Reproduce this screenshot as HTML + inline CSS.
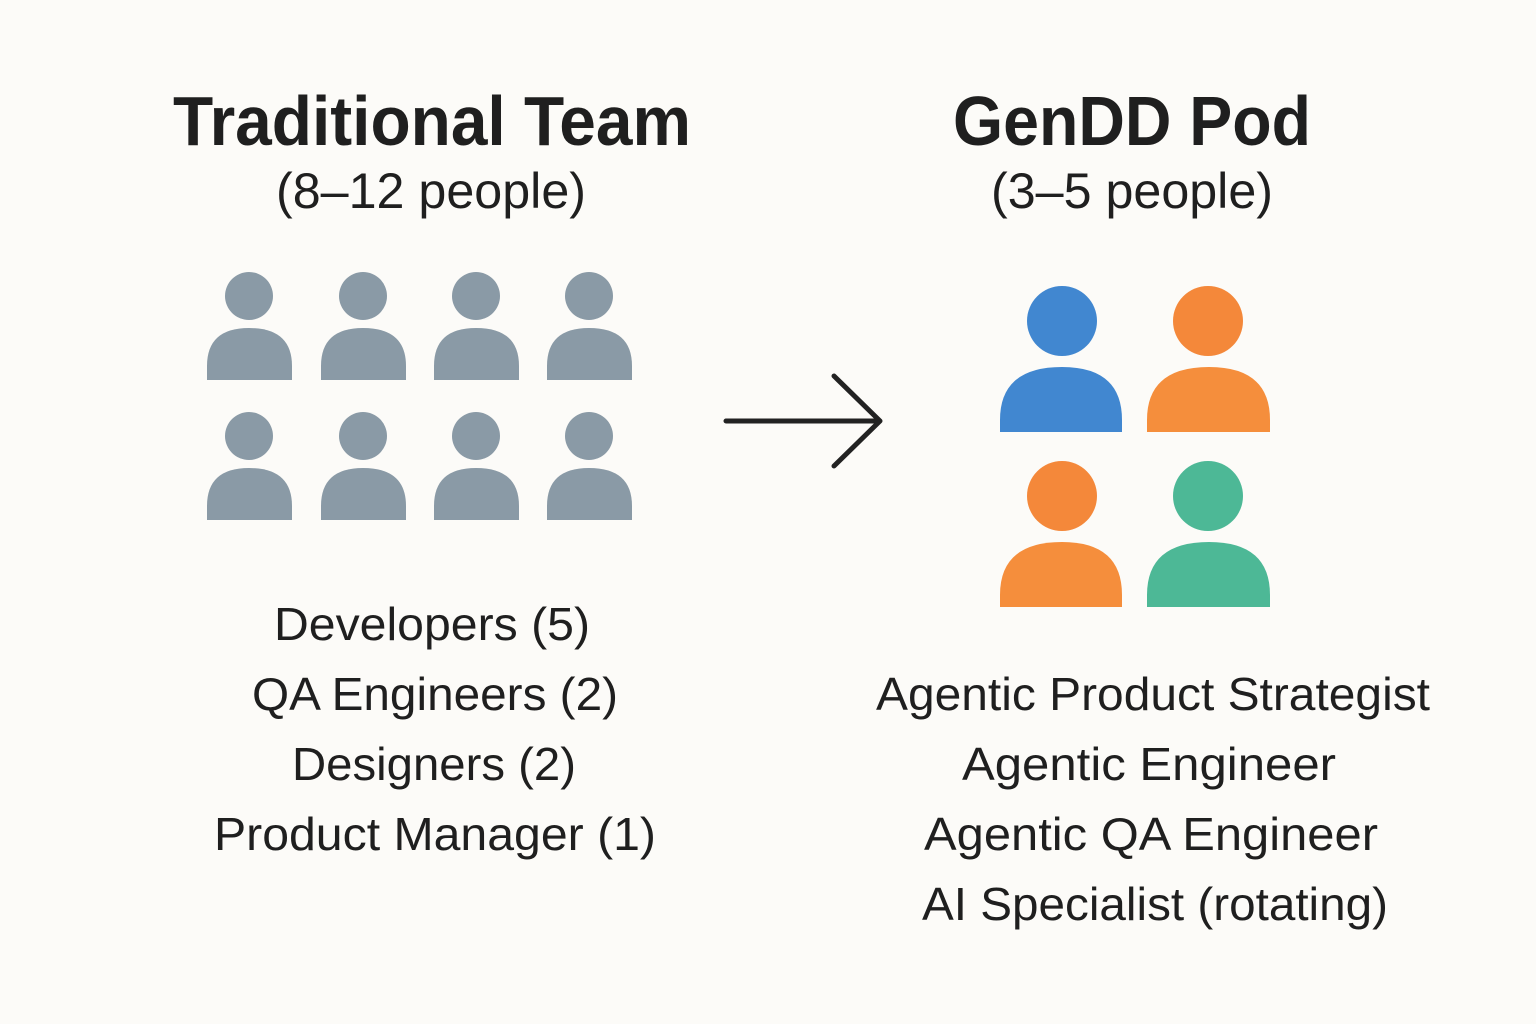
<!DOCTYPE html>
<html><head><meta charset="utf-8"><style>
html,body{margin:0;padding:0;background:#fcfbf8;}
svg{display:block}
text{font-family:"Liberation Sans",sans-serif;fill:#1f1f1f;text-anchor:middle}
</style></head><body>
<svg width="1536" height="1024" viewBox="0 0 1536 1024" xmlns="http://www.w3.org/2000/svg">
<rect width="1536" height="1024" fill="#fcfbf8"/>
<text x="432" y="145" font-size="70" font-weight="bold" textLength="518" lengthAdjust="spacingAndGlyphs">Traditional Team</text>
<text x="431" y="208" font-size="50" textLength="310" lengthAdjust="spacingAndGlyphs">(8–12 people)</text>
<text x="1132" y="145" font-size="70" font-weight="bold" textLength="358" lengthAdjust="spacingAndGlyphs">GenDD Pod</text>
<text x="1132" y="208" font-size="50" textLength="282" lengthAdjust="spacingAndGlyphs">(3–5 people)</text>

<g fill="#8a9aa6">
<g id="p">
<circle cx="249" cy="296" r="24"/>
<path d="M207 380 V366 Q207 328 249 328 Q292 328 292 366 V380 Z"/>
</g>
<use href="#p" x="114"/><use href="#p" x="227"/><use href="#p" x="340"/>
<use href="#p" y="140"/><use href="#p" x="114" y="140"/><use href="#p" x="227" y="140"/><use href="#p" x="340" y="140"/>
</g>

<path d="M726 421 H880 M834 376 L880 421 L834 466" fill="none" stroke="#222" stroke-width="5" stroke-linecap="round" stroke-linejoin="round"/>

<g>
<circle cx="1062" cy="321" r="35" fill="#4187d0"/>
<path d="M1000 432 V420 Q1000 367 1062 367 Q1122 367 1122 420 V432 Z" fill="#4187d0"/>
<circle cx="1208" cy="321" r="35" fill="#f4883a"/>
<path d="M1147 432 V420 Q1147 367 1209 367 Q1270 367 1270 420 V432 Z" fill="#f58e3c"/>
<circle cx="1062" cy="496" r="35" fill="#f4883a"/>
<path d="M1000 607 V595 Q1000 542 1062 542 Q1122 542 1122 595 V607 Z" fill="#f58e3c"/>
<circle cx="1208" cy="496" r="35" fill="#4db896"/>
<path d="M1147 607 V595 Q1147 542 1209 542 Q1270 542 1270 595 V607 Z" fill="#4db896"/>
</g>

<g font-size="46">
<text x="432" y="640" textLength="316" lengthAdjust="spacingAndGlyphs">Developers (5)</text>
<text x="435" y="710" textLength="366" lengthAdjust="spacingAndGlyphs">QA Engineers (2)</text>
<text x="434" y="780" textLength="284" lengthAdjust="spacingAndGlyphs">Designers (2)</text>
<text x="435" y="850" textLength="442" lengthAdjust="spacingAndGlyphs">Product Manager (1)</text>
<text x="1153" y="710" textLength="554" lengthAdjust="spacingAndGlyphs">Agentic Product Strategist</text>
<text x="1149" y="780" textLength="374" lengthAdjust="spacingAndGlyphs">Agentic Engineer</text>
<text x="1151" y="850" textLength="454" lengthAdjust="spacingAndGlyphs">Agentic QA Engineer</text>
<text x="1155" y="920" textLength="466" lengthAdjust="spacingAndGlyphs">AI Specialist (rotating)</text>
</g>
</svg>
</body></html>
